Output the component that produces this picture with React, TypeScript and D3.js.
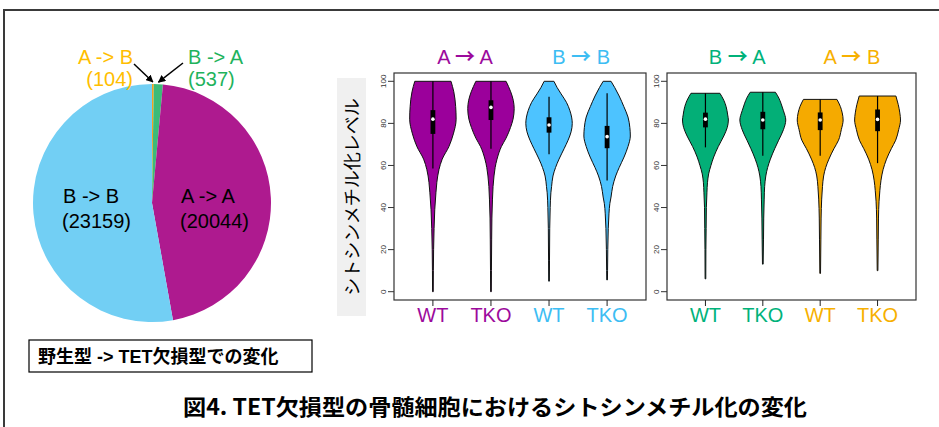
import React from "react";
import * as d3 from "d3";

const W = 939;
const H = 427;

// ---------- Pie data ----------
const pieLabels = ["A -> B", "B -> A", "A -> A", "B -> B"];
const pieCounts = [104, 537, 20044, 23159];
const pieFill = ["#F5A11C", "#3CBB78", "#AE1A8F", "#72CFF4"];

// ---------- Violin data ----------
const groupFrom = ["A", "B", "B", "A"];
const groupTo = ["A", "B", "A", "B"];
const groupTextColors = ["#9C0A9C", "#3DBDF3", "#00B27A", "#F7B000"];
const violinFills = ["#9B009B", "#4DC3FF", "#03AF77", "#F5AA00"];
const sampleNames = ["WT", "TKO"];
const yTicks = [0, 20, 40, 60, 80, 100];

// density profiles: [value, relative half-width]
const profAA_WT = [[100, 0.78], [95, 0.9], [88, 0.98], [82, 1.0], [75, 0.88], [69, 0.69], [63, 0.4], [58, 0.26], [52, 0.17], [47, 0.13], [39, 0.08], [30, 0.05], [20, 0.03], [10, 0.02], [0, 0.015]];
const profAA_TKO = [[100, 0.65], [95, 0.85], [91, 0.96], [87, 1.0], [82, 0.95], [78, 0.84], [73, 0.65], [69, 0.45], [63, 0.26], [59, 0.18], [55, 0.13], [50, 0.09], [44, 0.065], [35, 0.04], [25, 0.03], [10, 0.02], [0, 0.015]];
const profBB_WT = [[100, 0.21], [97, 0.35], [94, 0.52], [90, 0.75], [86, 0.9], [80, 1.0], [76, 0.95], [72, 0.82], [68, 0.65], [63, 0.43], [59, 0.28], [55, 0.17], [50, 0.11], [47, 0.08], [40, 0.05], [30, 0.03], [15, 0.02], [5, 0.015]];
const profBB_TKO = [[100, 0.17], [97, 0.33], [93, 0.52], [88, 0.72], [83, 0.9], [78, 0.98], [74, 1.0], [69, 0.9], [64, 0.73], [59, 0.52], [55, 0.37], [50, 0.24], [45, 0.17], [42, 0.12], [37, 0.08], [30, 0.05], [20, 0.03], [10, 0.02], [5.6, 0.015]];
const profBA_WT = [[94.3, 0.63], [91, 0.8], [88, 0.9], [84, 0.97], [81.6, 1.0], [78, 0.95], [74, 0.8], [69, 0.56], [64, 0.36], [60, 0.24], [56, 0.14], [52, 0.09], [47, 0.065], [40, 0.04], [30, 0.03], [20, 0.02], [6.1, 0.015]];
const profBA_TKO = [[94.8, 0.55], [92, 0.7], [89.6, 0.79], [86, 0.9], [81.6, 1.0], [77, 0.9], [72, 0.69], [68, 0.52], [63, 0.33], [59, 0.21], [55, 0.13], [50, 0.08], [44, 0.06], [35, 0.04], [25, 0.03], [13.1, 0.015]];
const profAB_WT = [[91.4, 0.73], [88, 0.88], [85, 0.96], [81.6, 1.0], [77, 0.92], [72, 0.8], [68, 0.6], [63, 0.38], [59, 0.24], [55, 0.15], [50, 0.1], [44, 0.065], [35, 0.04], [25, 0.03], [8.7, 0.015]];
const profAB_TKO = [[93, 0.8], [89, 0.9], [85, 0.97], [81.6, 1.0], [77, 0.92], [72, 0.79], [68, 0.6], [63, 0.39], [58, 0.24], [53, 0.15], [48, 0.1], [43, 0.065], [35, 0.04], [25, 0.03], [10, 0.015]];

// box stats: [lower whisker, q1, median, q3, upper whisker]
const statsAA_WT = [58.5, 75, 82, 86.3, 100];
const statsAA_TKO = [68, 81.6, 87.6, 91, 100];
const statsBB_WT = [65.3, 75.6, 79.2, 82.9, 92.7];
const statsBB_TKO = [52.8, 68.2, 73.7, 78.8, 94.3];
const statsBA_WT = [68.6, 78.1, 82, 85.1, 94.3];
const statsBA_TKO = [64.6, 77.2, 81.6, 85.5, 94.8];
const statsAB_WT = [64.6, 76.8, 81.6, 85.2, 91.4];
const statsAB_TKO = [61.1, 76.3, 81.9, 86.6, 93];

const groupProfiles = [
  [profAA_WT, profAA_TKO],
  [profBB_WT, profBB_TKO],
  [profBA_WT, profBA_TKO],
  [profAB_WT, profAB_TKO],
];
const groupStats = [
  [statsAA_WT, statsAA_TKO],
  [statsBB_WT, statsBB_TKO],
  [statsBA_WT, statsBA_TKO],
  [statsAB_WT, statsAB_TKO],
];

const LATIN = "'Liberation Sans', Arial, 'Noto Sans CJK JP', sans-serif";
const CJK = "'Noto Sans CJK JP', 'Liberation Sans', sans-serif";

function Panel({ left, right, top, bottom, groups }: { left: number; right: number; top: number; bottom: number; groups: number[] }) {
  const x = d3.scaleLinear().domain([0.33, 4.67]).range([left, right]);
  const y = d3.scaleLinear().domain([0, 100]).range([291.7, 81.3]);
  const halfMax = x(0.4) - x(0);
  const items: any[] = [];
  groups.forEach((g, gi) => {
    [0, 1].forEach((si) => {
      const pos = gi * 2 + si + 1;
      const cx = x(pos);
      const prof = groupProfiles[g][si];
      const st = groupStats[g][si];
      const area = d3
        .area<number[]>()
        .y((d) => y(d[0]))
        .x0((d) => cx - d[1] * halfMax)
        .x1((d) => cx + d[1] * halfMax)
        .curve(d3.curveMonotoneY);
      items.push(
        <g key={`v${g}-${si}`}>
          <path d={area(prof) || ""} fill={violinFills[g]} stroke="#111" strokeWidth={1} />
          <line x1={cx} x2={cx} y1={y(st[0])} y2={y(st[4])} stroke="#000" strokeWidth={1.2} />
          <rect x={cx - 2.4} width={4.8} y={y(st[3])} height={y(st[1]) - y(st[3])} fill="#000" />
          <circle cx={cx} cy={y(st[2])} r={1.8} fill="#fff" />
          <line x1={cx} x2={cx} y1={bottom} y2={bottom + 6} stroke="#222" strokeWidth={1} />
          <text x={cx} y={322} textAnchor="middle" fontFamily={LATIN} fontSize={20} fill={groupTextColors[g]}>
            {sampleNames[si]}
          </text>
        </g>
      );
    });
    const mid = (x(gi * 2 + 1) + x(gi * 2 + 2)) / 2 + 3;
    items.push(
      <text key={`t${g}`} x={mid} y={64} textAnchor="middle" fontFamily={LATIN} fontSize={20} fill={groupTextColors[g]}>
        {groupFrom[g]} <tspan fontFamily={CJK} fontWeight="bold">→</tspan> {groupTo[g]}
      </text>
    );
  });
  return (
    <g>
      <rect x={left} y={top} width={right - left} height={bottom - top} fill="#fff" stroke="#333" strokeWidth={1.2} />
      {yTicks.map((t) => (
        <g key={t}>
          <line x1={left - 6} x2={left} y1={y(t)} y2={y(t)} stroke="#333" strokeWidth={1} />
          <text
            transform={`translate(${left - 8},${y(t)}) rotate(-90)`}
            textAnchor="middle"
            fontFamily={LATIN}
            fontSize={8}
            fill="#333"
          >
            {t}
          </text>
        </g>
      ))}
      {items}
    </g>
  );
}

export default function App() {
  const cx = 152;
  const cy = 203;
  const r = 119;
  const pie = d3.pie<number>().sort(null).value((d) => d)(pieCounts);
  const arc = d3.arc<d3.PieArcDatum<number>>().innerRadius(0).outerRadius(r);
  const tipOf = (i: number) => {
    const a = (pie[i].startAngle + pie[i].endAngle) / 2;
    return [cx + (r + 2) * Math.sin(a), cy - (r + 2) * Math.cos(a)];
  };
  const tipAB = tipOf(0);
  const tipBA = tipOf(1);

  return (
    <svg width={W} height={H} style={{ position: "absolute", left: 0, top: 0, background: "#fff" }}>
      <defs>
        <marker id="arrowhead" viewBox="0 0 10 10" refX="9" refY="5" markerWidth="5" markerHeight="5" orient="auto">
          <path d="M0,0 L10,5 L0,10 z" fill="#000" />
        </marker>
      </defs>
      <rect x={0} y={0} width={W} height={H} fill="#fff" />
      <rect x={4} y={10} width={1000} height={600} fill="none" stroke="#3a3a3a" strokeWidth={2} />

      {/* Pie */}
      <g transform={`translate(${cx},${cy})`}>
        {pie.map((p, i) => (
          <path key={pieLabels[i]} d={arc(p) || ""} fill={pieFill[i]} />
        ))}
      </g>
      <line x1={134} y1={64} x2={tipAB[0]} y2={tipAB[1]} stroke="#000" strokeWidth={1.5} markerEnd="url(#arrowhead)" />
      <line x1={183} y1={63} x2={tipBA[0]} y2={tipBA[1]} stroke="#000" strokeWidth={1.5} markerEnd="url(#arrowhead)" />
      <g fontFamily={LATIN} fontSize={20}>
        <text x={133} y={64} textAnchor="end" fill="#FFBE00">{pieLabels[0]}</text>
        <text x={133} y={86} textAnchor="end" fill="#FFBE00">({pieCounts[0]})</text>
        <text x={188} y={64} fill="#1FB35C">{pieLabels[1]}</text>
        <text x={188} y={86} fill="#1FB35C">({pieCounts[1]})</text>
        <text x={181} y={203} fill="#000">{pieLabels[2]}</text>
        <text x={180} y={228} fill="#000">({pieCounts[2]})</text>
        <text x={63} y={203} fill="#000">{pieLabels[3]}</text>
        <text x={62} y={228} fill="#000">({pieCounts[3]})</text>
      </g>

      {/* Legend box */}
      <rect x={29} y={340} width={283} height={32} fill="#fff" stroke="#000" strokeWidth={1.2} />
      <text x={38} y={363} fontFamily={LATIN} fontWeight="bold" fontSize={18} fill="#000">
        野生型 -&gt; TET欠損型での変化
      </text>

      {/* Y axis label */}
      <rect x={337} y={78} width={29} height={238} fill="#F0F0F0" />
      <text transform="translate(359,197) rotate(-90)" textAnchor="middle" fontFamily={CJK} fontSize={18} fill="#000">
        シトシンメチル化レベル
      </text>

      <Panel left={394} right={646} top={73} bottom={300} groups={[0, 1]} />
      <Panel left={667} right={916} top={73} bottom={300} groups={[2, 3]} />

      {/* Title */}
      <text x={495} y={415} textAnchor="middle" fontFamily={CJK} fontWeight="bold" fontSize={22} fill="#000" textLength={624} lengthAdjust="spacingAndGlyphs">
        図4. TET欠損型の骨髄細胞におけるシトシンメチル化の変化
      </text>
    </svg>
  );
}
